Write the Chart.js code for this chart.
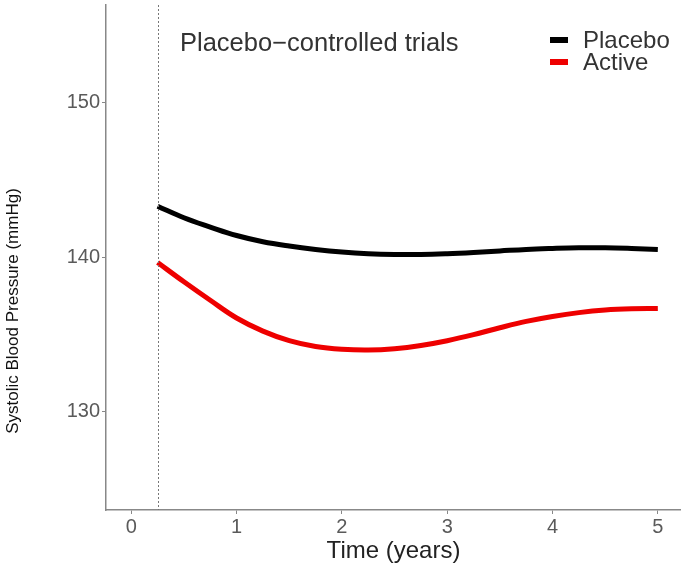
<!DOCTYPE html>
<html>
<head>
<meta charset="utf-8">
<script src="https://cdn.jsdelivr.net/npm/chart.js@4.4.1/dist/chart.umd.min.js"></script>
<style>
  html, body { margin: 0; padding: 0; background: #fff; }
</style>
</head>
<body>
<canvas id="bp-chart" width="681" height="567"></canvas>
<script>
// Systolic BP over follow-up, placebo vs active arm
var years = [0.25, 0.5, 0.75, 1, 1.25, 1.5, 1.75, 2, 2.25, 2.5, 2.75, 3, 3.25, 3.5, 3.75, 4, 4.25, 4.5, 4.75, 5];
var placebo = [143.3, 142.55, 141.95, 141.4, 141.0, 140.72, 140.5, 140.33, 140.22, 140.17, 140.17, 140.22, 140.3, 140.4, 140.5, 140.56, 140.6, 140.6, 140.56, 140.5];
var active = [139.65, 138.4, 137.2, 136.05, 135.2, 134.58, 134.2, 134.02, 133.97, 134.06, 134.27, 134.58, 134.97, 135.42, 135.83, 136.15, 136.4, 136.57, 136.65, 136.67];
var xTicks = [0, 1, 2, 3, 4, 5];
var yTicks = [130, 140, 150];
var baselineYear = 0.25;
var panelTitle = 'Placebo\u2212controlled trials';
var yTitle = 'Systolic Blood Pressure (mmHg)';

function toPoints(ys) {
    return years.map(function (x, i) { return { x: x, y: ys[i] }; });
}

var FONT = 'Liberation Sans, Arial, Helvetica, sans-serif';

// dotted baseline, panel title, y title and legend drawn over the plot
var overlay = {
    id: 'overlay',
    afterDatasetsDraw: function (chart) {
        var ctx = chart.ctx;
        var area = chart.chartArea;
        var xs = chart.scales.x;
        var bx = Math.round(xs.getPixelForValue(baselineYear)) + 0.5;

        ctx.save();
        ctx.strokeStyle = '#777';
        ctx.lineWidth = 1;
        ctx.setLineDash([2, 2]);
        ctx.beginPath();
        ctx.moveTo(bx, area.top);
        ctx.lineTo(bx, area.bottom);
        ctx.stroke();
        ctx.setLineDash([]);

        ctx.textBaseline = 'middle';
        ctx.textAlign = 'left';

        // y axis title sits lower than the plot middle
        ctx.save();
        ctx.translate(13, 311);
        ctx.rotate(-Math.PI / 2);
        ctx.textAlign = 'center';
        ctx.fillStyle = '#111';
        ctx.font = '17px ' + FONT;
        ctx.fillText(yTitle, 0, 0);
        ctx.restore();

        ctx.fillStyle = '#333';
        ctx.font = '25.5px ' + FONT;
        ctx.fillText(panelTitle, 180, 44);

        ctx.font = '24px ' + FONT;
        chart.data.datasets.forEach(function (ds, i) {
            var y = 40 + i * 22;
            ctx.strokeStyle = ds.borderColor;
            ctx.lineWidth = 6;
            ctx.beginPath();
            ctx.moveTo(550, y);
            ctx.lineTo(568, y);
            ctx.stroke();
            ctx.fillStyle = '#333';
            ctx.fillText(ds.label, 583, y + 1);
        });
        ctx.restore();
    }
};

var ctx = document.getElementById('bp-chart').getContext('2d');
var bpChart = new Chart(ctx, {
    type: 'line',
    data: {
        datasets: [
            {
                label: 'Placebo',
                data: toPoints(placebo),
                borderColor: '#000000',
                borderWidth: 5,
                pointRadius: 0,
                tension: 0.4,
                fill: false
            },
            {
                label: 'Active',
                data: toPoints(active),
                borderColor: '#ee0000',
                borderWidth: 5,
                pointRadius: 0,
                tension: 0.4,
                fill: false
            }
        ]
    },
    options: {
        responsive: false,
        animation: false,
        devicePixelRatio: 1,
        layout: { padding: { top: 5, right: 0, bottom: 0, left: 0 } },
        plugins: {
            legend: { display: false },
            tooltip: { enabled: false }
        },
        scales: {
            x: {
                type: 'linear',
                min: -0.24,
                max: 5.22,
                afterBuildTicks: function (scale) {
                    scale.ticks = xTicks.map(function (v) { return { value: v }; });
                },
                afterFit: function (scale) {
                    scale.height = 57;
                    scale.paddingLeft = 0;
                    scale.paddingRight = 0;
                },
                border: { display: true, color: '#888', width: 1.5 },
                grid: { drawOnChartArea: false, drawTicks: true, tickLength: 4, color: '#888' },
                ticks: {
                    color: '#5a5a5a',
                    font: { family: FONT, size: 20 },
                    padding: 1,
                    maxRotation: 0
                },
                title: {
                    display: true,
                    text: 'Time (years)',
                    color: '#222',
                    font: { family: FONT, size: 24 },
                    padding: { top: 0, bottom: 1 }
                }
            },
            y: {
                min: 123.6,
                max: 156.35,
                afterBuildTicks: function (scale) {
                    scale.ticks = yTicks.map(function (v) { return { value: v }; });
                },
                afterFit: function (scale) {
                    scale.width = 106;
                    scale.paddingTop = 0;
                    scale.paddingBottom = 0;
                },
                border: { display: true, color: '#888', width: 1.5 },
                grid: { drawOnChartArea: false, drawTicks: true, tickLength: 4, color: '#888' },
                ticks: {
                    color: '#5a5a5a',
                    font: { family: FONT, size: 20 },
                    padding: 2
                }
            }
        }
    },
    plugins: [overlay]
});
</script>
</body>
</html>
